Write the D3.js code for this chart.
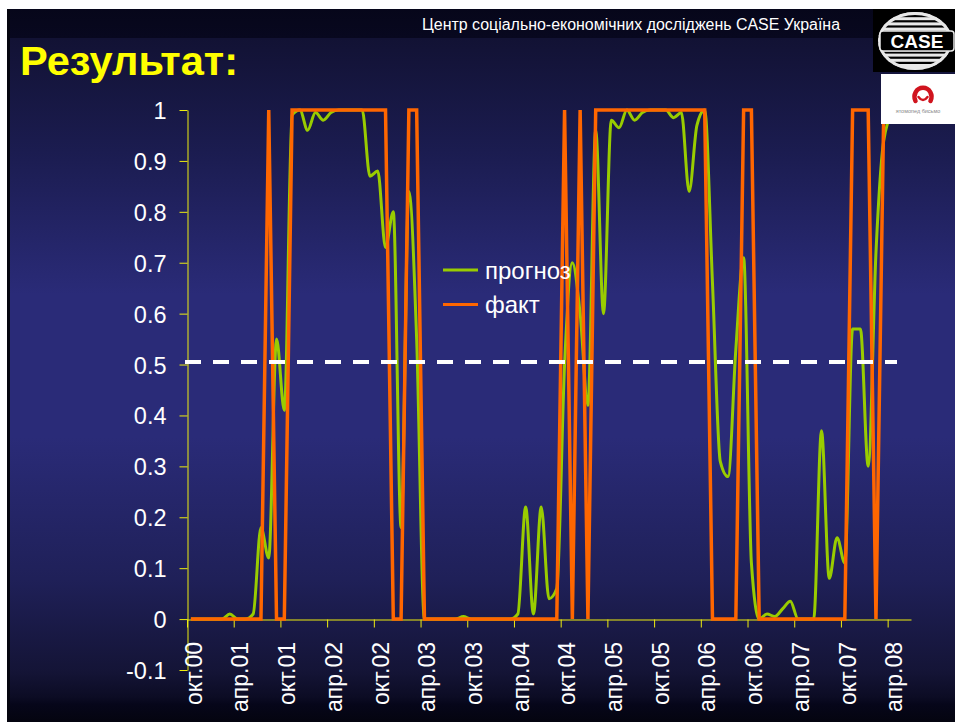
<!DOCTYPE html>
<html>
<head>
<meta charset="utf-8">
<script src="https://cdn.jsdelivr.net/npm/d3@7"></script>
<style>
  html, body { margin: 0; padding: 0; background: #ffffff; }
  svg { display: block; }
  text { font-family: Arial, "Liberation Sans", sans-serif; }
</style>
</head>
<body>
<svg id="chart" width="955" height="722"></svg>
<script>
// ---------- DATA ----------
const categories = [
  "окт.00","ноя.00","дек.00",
  "янв.01","фев.01","мар.01","апр.01","май.01","июн.01","июл.01","авг.01","сен.01","окт.01","ноя.01","дек.01",
  "янв.02","фев.02","мар.02","апр.02","май.02","июн.02","июл.02","авг.02","сен.02","окт.02","ноя.02","дек.02",
  "янв.03","фев.03","мар.03","апр.03","май.03","июн.03","июл.03","авг.03","сен.03","окт.03","ноя.03","дек.03",
  "янв.04","фев.04","мар.04","апр.04","май.04","июн.04","июл.04","авг.04","сен.04","окт.04","ноя.04","дек.04",
  "янв.05","фев.05","мар.05","апр.05","май.05","июн.05","июл.05","авг.05","сен.05","окт.05","ноя.05","дек.05",
  "янв.06","фев.06","мар.06","апр.06","май.06","июн.06","июл.06","авг.06","сен.06","окт.06","ноя.06","дек.06",
  "янв.07","фев.07","мар.07","апр.07","май.07","июн.07","июл.07","авг.07","сен.07","окт.07","ноя.07","дек.07",
  "янв.08","фев.08","мар.08","апр.08","май.08","июн.08"
];

const tickLabels = ["окт.00","апр.01","окт.01","апр.02","окт.02","апр.03","окт.03","апр.04",
                    "окт.04","апр.05","окт.05","апр.06","окт.06","апр.07","окт.07","апр.08"];

// прогноз (forecast probability)
const forecast = [
  0, 0, 0,
  0, 0, 0.01, 0, 0, 0.01, 0.18, 0.12, 0.55, 0.41, 0.99, 1.0,
  0.96, 0.995, 0.98, 0.995, 1, 1, 1, 1, 0.87, 0.88, 0.73, 0.80,
  0.18, 0.84, 0.55, 0, 0, 0, 0, 0, 0.005, 0, 0, 0,
  0, 0, 0, 0.01, 0.22, 0.01, 0.22, 0.04, 0.06, 0.5, 0.7, 0.6,
  0.42, 0.96, 0.6, 0.98, 0.965, 1, 0.98, 0.995, 1, 1, 1, 0.985,
  0.995, 0.84, 0.97, 1, 0.66, 0.31, 0.28, 0.53, 0.71, 0.11, 0, 0.01,
  0.005, 0.02, 0.035, 0, 0, 0, 0.37, 0.08, 0.16, 0.11, 0.57, 0.57,
  0.3, 0.72, 0.94, 0.99, 1, 1
];

// факт (actual)
const actual = [
  0, 0, 0,
  0, 0, 0, 0, 0, 0, 0, 1, 0, 0, 1, 1,
  1, 1, 1, 1, 1, 1, 1, 1, 1, 1, 1, 0,
  0, 1, 1, 0, 0, 0, 0, 0, 0, 0, 0, 0,
  0, 0, 0, 0, 0, 0, 0, 0, 0, 1, 0, 1,
  0, 1, 1, 1, 1, 1, 1, 1, 1, 1, 1, 1,
  1, 1, 1, 1, 0, 0, 0, 0, 1, 1, 0, 0,
  0, 0, 0, 0, 0, 0, 0, 0, 0, 0, 1, 1,
  1, 0, 1, 1, 1, 1
];

const yTickValues = [-0.1, 0, 0.1, 0.2, 0.3, 0.4, 0.5, 0.6, 0.7, 0.8, 0.9, 1];
const threshold = [0.505];
const seriesNames = ["прогноз", "факт"];
const titleText = "Результат:";
const headerText = "Центр соціально-економічних досліджень CASE Україна";

// ---------- LAYOUT ----------
const svg = d3.select("#chart");
const W = 955, H = 722;
const plot = { left: 187, right: 911, top: 110, bottom: 670 };

const defs = svg.append("defs");
const grad = defs.append("linearGradient").attr("id", "bg").attr("x1", 0).attr("y1", 0).attr("x2", 0).attr("y2", 1);
[
  [0, "#06061a"], [0.04, "#08081f"], [0.041, "#121234"], [0.2, "#1b1c50"],
  [0.4, "#2a2b78"], [0.6, "#2a2b78"], [0.8, "#1f2058"], [0.93, "#141436"],
  [0.965, "#0c0c24"], [0.975, "#06061a"], [1, "#04040f"]
].forEach(([o, c]) => grad.append("stop").attr("offset", o).attr("stop-color", c));

svg.append("rect").attr("x", 0).attr("y", 0).attr("width", W).attr("height", H).attr("fill", "#ffffff");
svg.append("rect").attr("x", 7).attr("y", 9).attr("width", W - 7).attr("height", H - 9).attr("fill", "url(#bg)");
svg.append("rect").attr("x", 7).attr("y", 9).attr("width", 3).attr("height", H - 9).attr("fill", "#05050f");

// Header and title
svg.append("text").attr("x", 422).attr("y", 29.5).attr("fill", "#ffffff")
  .attr("font-size", 16).attr("textLength", 418).attr("lengthAdjust", "spacingAndGlyphs")
  .text(headerText);
svg.append("text").attr("x", 20).attr("y", 75).attr("fill", "#ffff00")
  .attr("font-size", 41).attr("font-weight", "bold")
  .attr("textLength", 218).attr("lengthAdjust", "spacingAndGlyphs")
  .text(titleText);

// ---------- SCALES ----------
const x = d3.scaleBand().domain(categories).range([plot.left, plot.right]).paddingInner(0).paddingOuter(0);
const bw = x.bandwidth();
const xIdx = d3.scaleLinear().domain([0, categories.length]).range([plot.left, plot.right]);
const y = d3.scaleLinear().domain([-0.1, 1]).range([plot.bottom, plot.top]);

const axisColor = "#eeee10";

// Y axis
const yAxis = svg.append("g").attr("transform", `translate(${plot.left + 0.5},0)`)
  .call(d3.axisLeft(y).tickValues(yTickValues).tickSize(8).tickSizeOuter(0)
    .tickFormat(d => String(+d.toFixed(1))));
yAxis.select(".domain").attr("stroke", axisColor);
yAxis.selectAll(".tick line").attr("stroke", axisColor);
yAxis.selectAll(".tick text").attr("fill", "#ffffff").attr("font-size", 23.5)
  .attr("font-family", "Arial, 'Liberation Sans', sans-serif").attr("x", -21).attr("dy", "0.36em");

// X axis (at y = 0)
const tickIdx = tickLabels.map(l => categories.indexOf(l));
const xAxis = svg.append("g").attr("transform", `translate(0,${Math.round(y(0)) + 0.5})`)
  .call(d3.axisBottom(xIdx).tickValues(tickIdx).tickSize(8).tickSizeOuter(0).tickFormat(""));
xAxis.select(".domain").attr("stroke", axisColor);
xAxis.selectAll(".tick line").attr("stroke", axisColor);

svg.append("g").selectAll("text").data(tickLabels).join("text")
  .attr("transform", d => `translate(${x(d) + bw / 2 + 2.5},642) rotate(-90)`)
  .attr("text-anchor", "end").attr("dy", "0.36em")
  .attr("fill", "#ffffff").attr("font-size", 23)
  .text(d => d);

// ---------- LINES ----------
const px = (d, i) => x(categories[i]) + bw / 2;
const greenLine = d3.line().x(px).y(d => y(d)).curve(d3.curveMonotoneX);
const orangeLine = d3.line().x(px).y(d => y(d));

svg.append("path").datum(forecast).attr("d", greenLine)
  .attr("fill", "none").attr("stroke", "#99cc00").attr("stroke-width", 3)
  .attr("stroke-linejoin", "round");
svg.append("path").datum(actual).attr("d", orangeLine)
  .attr("fill", "none").attr("stroke", "#ff6600").attr("stroke-width", 3.5)
  .attr("stroke-linejoin", "miter");

// threshold dashed line
svg.append("g").selectAll("line").data(threshold).join("line")
  .attr("x1", 185).attr("x2", 897).attr("y1", d => y(d)).attr("y2", d => y(d))
  .attr("stroke", "#ffffff").attr("stroke-width", 4).attr("stroke-dasharray", "16,12");

// Legend
const legendColors = ["#99cc00", "#ff6600"];
const lg = svg.append("g");
seriesNames.forEach((n, i) => {
  const ly = 270 + i * 34.5;
  lg.append("line").attr("x1", 443).attr("x2", 478).attr("y1", ly).attr("y2", ly)
    .attr("stroke", legendColors[i]).attr("stroke-width", 3);
  lg.append("text").attr("x", 485).attr("y", ly).attr("dy", "0.36em")
    .attr("fill", "#ffffff").attr("font-size", 24).text(n);
});

// ---------- LOGOS ----------
const logo = svg.append("g");
logo.append("rect").attr("x", 873).attr("y", 9).attr("width", 82).attr("height", 63).attr("fill", "#000000");
defs.append("clipPath").attr("id", "caseClip").append("ellipse")
  .attr("cx", 915).attr("cy", 41).attr("rx", 37).attr("ry", 29);
const stripes = logo.append("g").attr("clip-path", "url(#caseClip)");
d3.range(12, 72, 5.2).forEach(sy => {
  stripes.append("rect").attr("x", 876).attr("y", sy).attr("width", 80).attr("height", 3).attr("fill", "#e8e8e8");
});
logo.append("ellipse").attr("cx", 915).attr("cy", 41).attr("rx", 35.5).attr("ry", 27.5)
  .attr("fill", "none").attr("stroke", "#e8e8e8").attr("stroke-width", 3);
logo.append("rect").attr("x", 880).attr("y", 31).attr("width", 74).attr("height", 20).attr("rx", 3).attr("fill", "#000000")
  .attr("stroke", "#e8e8e8").attr("stroke-width", 1.5);
logo.append("text").attr("x", 917).attr("y", 48).attr("text-anchor", "middle")
  .attr("fill", "#ffffff").attr("font-size", 19).attr("font-weight", "bold").text("CASE");

logo.append("rect").attr("x", 881).attr("y", 74).attr("width", 74).attr("height", 50).attr("fill", "#ffffff");
logo.append("path").attr("d", "M915.5,101 A8.5,9 0 1 1 930.5,101")
  .attr("fill", "none").attr("stroke", "#d0141e").attr("stroke-width", 4.5).attr("stroke-linecap", "round");
logo.append("path").attr("d", "M918.5,97 Q923,103 927.5,97")
  .attr("fill", "none").attr("stroke", "#d0141e").attr("stroke-width", 2.5).attr("stroke-linecap", "round");
logo.append("text").attr("x", 918).attr("y", 113).attr("text-anchor", "middle")
  .attr("fill", "#888888").attr("font-size", 5.5).text("ятомопед бисьмо");
</script>
</body>
</html>
